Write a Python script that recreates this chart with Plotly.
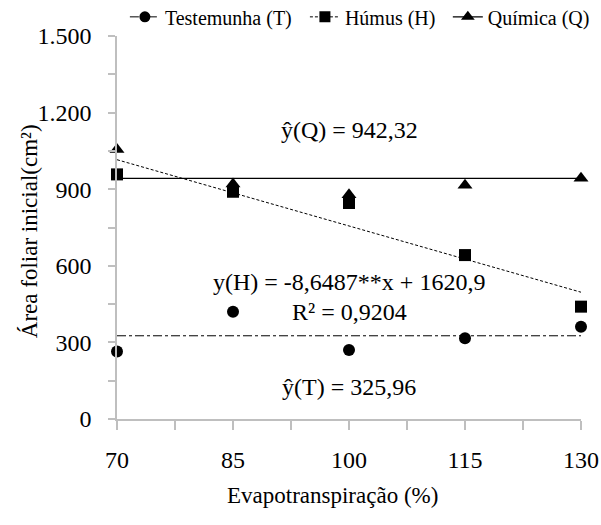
import plotly.graph_objects as go

# Evapotranspiration levels (%)
et_levels = [70, 85, 100, 115, 130]

# Initial leaf area (cm²) per treatment
testemunha = [264, 420, 270, 316, 361]
humus = [958, 890, 846, 642, 440]
quimica = [1055, 920, 878, 915, 943]

# Fitted models
mean_t = 325.96
mean_q = 942.32
slope_h = -8.6487
intercept_h = 1620.9

y_tickvals = [0, 300, 600, 900, 1200, 1500]
y_ticktext = ["0", "300", "600", "900", "1.200", "1.500"]
x_tickvals = [70, 85, 100, 115, 130]

FONT = "Liberation Serif"
x_line = [et_levels[0], et_levels[-1]]

fig = go.Figure()

# fitted lines
fig.add_trace(go.Scatter(x=x_line, y=[mean_t, mean_t], mode="lines",
                         line=dict(color="black", width=1, dash="dashdot"),
                         showlegend=False, cliponaxis=False))
fig.add_trace(go.Scatter(x=x_line, y=[slope_h * v + intercept_h for v in x_line], mode="lines",
                         line=dict(color="black", width=1, dash="3px,2px"),
                         showlegend=False, cliponaxis=False))
fig.add_trace(go.Scatter(x=x_line, y=[mean_q, mean_q], mode="lines",
                         line=dict(color="black", width=1.2),
                         showlegend=False, cliponaxis=False))

# observed means
fig.add_trace(go.Scatter(x=et_levels, y=testemunha, mode="markers",
                         marker=dict(symbol="circle", size=12, color="black"),
                         showlegend=False, cliponaxis=False))
fig.add_trace(go.Scatter(x=et_levels, y=humus, mode="markers",
                         marker=dict(symbol="square", size=12, color="black"),
                         showlegend=False, cliponaxis=False))
fig.add_trace(go.Scatter(x=et_levels, y=quimica, mode="markers",
                         marker=dict(symbol="triangle-up", size=13, color="black"),
                         showlegend=False, cliponaxis=False))

# legend entries, one legend box per series
legend_specs = [
    ("Testemunha (T)", "circle", 11, dict(color="black", width=1, dash="dashdot"), "legend"),
    ("Húmus (H)", "square", 11, dict(color="black", width=1, dash="3px,2px"), "legend2"),
    ("Química (Q)", "triangle-up", 12, dict(color="black", width=1.2), "legend3"),
]
for name, sym, size, line, lg in legend_specs:
    fig.add_trace(go.Scatter(x=[None], y=[None], mode="lines+markers", name=name,
                             line=line, marker=dict(symbol=sym, size=size, color="black"),
                             legend=lg))

ann_font = dict(family=FONT, size=24, color="black")
annotations = [
    dict(x=100, y=1132, text="ŷ(Q) = 942,32"),
    dict(x=100, y=536, text="y(H) = -8,6487**x + 1620,9"),
    dict(x=100, y=419, text="R² = 0,9204"),
    dict(x=100, y=125, text="ŷ(T) = 325,96"),
]
for a in annotations:
    fig.add_annotation(x=a["x"], y=a["y"], text=a["text"], showarrow=False,
                       font=ann_font, xanchor="center", yanchor="middle")

# axis titles
fig.add_annotation(xref="paper", yref="paper", x=0.4655, y=-0.201,
                   text="Evapotranspiração (%)", showarrow=False,
                   font=dict(family=FONT, size=23, color="black"),
                   xanchor="center", yanchor="middle")
fig.add_annotation(xref="paper", yref="paper", x=-0.19, y=0.49,
                   text="Área foliar inicial(cm²)", showarrow=False, textangle=-90,
                   font=dict(family=FONT, size=23, color="black"),
                   xanchor="center", yanchor="middle")

axis_color = "#bfbfbf"
fig.update_xaxes(range=[70, 130], tickvals=x_tickvals,
                 ticks="outside", ticklen=9, tickcolor=axis_color, tickwidth=1.5,
                 minor=dict(dtick=7.5, tick0=70, ticks="outside", ticklen=9,
                            tickcolor=axis_color, tickwidth=1.5),
                 showline=True, linecolor=axis_color, linewidth=1.5,
                 showgrid=False, zeroline=False, ticklabelstandoff=9,
                 tickfont=dict(family=FONT, size=24, color="black"))
fig.update_yaxes(range=[0, 1500], tickvals=y_tickvals, ticktext=y_ticktext,
                 ticks="outside", ticklen=7, tickcolor=axis_color, tickwidth=1.5,
                 minor=dict(dtick=150, tick0=0, ticks="outside", ticklen=7,
                            tickcolor=axis_color, tickwidth=1.5),
                 showline=True, linecolor=axis_color, linewidth=1.5,
                 showgrid=False, zeroline=False, ticklabelstandoff=12,
                 tickfont=dict(family=FONT, size=24, color="black"))

legend_common = dict(orientation="h", y=1.05, xanchor="left", yanchor="middle",
                     font=dict(family=FONT, size=20, color="black"),
                     itemwidth=30, bgcolor="rgba(0,0,0,0)")
fig.update_layout(
    width=601, height=525,
    margin=dict(l=117, r=20, t=36, b=106, autoexpand=False),
    paper_bgcolor="white", plot_bgcolor="white",
    font=dict(family=FONT, color="black"),
    showlegend=True,
    legend=dict(x=0.017, **legend_common),
    legend2=dict(x=0.405, **legend_common),
    legend3=dict(x=0.713, **legend_common),
)

fig.write_html("out.html")
